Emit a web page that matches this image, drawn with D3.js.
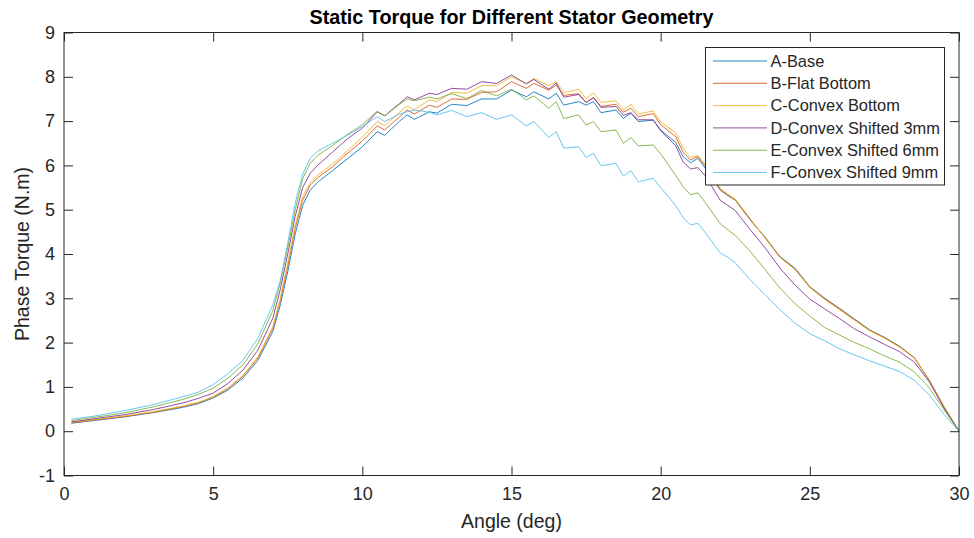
<!DOCTYPE html>
<html>
<head>
<meta charset="utf-8">
<script src="https://cdn.jsdelivr.net/npm/d3@7"></script>
<style>
  body { margin: 0; background: #fff; }
  svg { font-family: "Liberation Sans", Arial, sans-serif; }
</style>
</head>
<body>
<svg width="974" height="538"></svg>
<script>
/*
Data (angle in deg, torque in N.m)
*/

const angle = [0.25, 1, 2, 3, 4, 4.5, 5, 5.5, 6, 6.5,
	7, 7.25, 7.5, 7.75, 8, 8.25, 8.5, 9, 9.5, 10,
	10.5, 10.75, 11.25, 11.5, 11.75, 12.25, 12.5, 13, 13.5, 14,
	14.5, 15, 15.5, 15.75, 16.25, 16.5, 16.75, 17.25, 17.5, 17.75,
	18, 18.5, 18.75, 19, 19.25, 19.75, 20, 20.5, 20.75, 21,
	21.25, 21.5, 22, 22.25, 22.5, 23, 23.5, 24, 24.5, 25,
	25.5, 26, 26.5, 27, 27.5, 28, 28.5, 29, 29.5, 30];

const aBase = [0.18, 0.24, 0.32, 0.42, 0.54, 0.62, 0.75, 0.93, 1.2, 1.6,
	2.25, 2.85, 3.6, 4.45, 5.1, 5.44, 5.62, 5.88, 6.15, 6.42,
	6.76, 6.68, 7.0, 7.14, 7.04, 7.21, 7.18, 7.38, 7.35, 7.5,
	7.5, 7.7, 7.55, 7.66, 7.5, 7.63, 7.36, 7.44, 7.36, 7.44,
	7.19, 7.25, 7.06, 7.18, 6.99, 7.02, 6.8, 6.52, 6.2, 6.06,
	6.16, 5.93, 5.44, 5.32, 5.22, 4.77, 4.38, 3.94, 3.68, 3.26,
	3.0, 2.77, 2.53, 2.29, 2.12, 1.92, 1.66, 1.15, 0.55, 0];

const bFlat = [0.19, 0.25, 0.33, 0.43, 0.56, 0.64, 0.77, 0.96, 1.24, 1.65,
	2.32, 2.95, 3.72, 4.58, 5.22, 5.55, 5.72, 5.97, 6.27, 6.55,
	6.89, 6.8, 7.1, 7.25, 7.16, 7.36, 7.31, 7.5, 7.49, 7.65,
	7.66, 7.89, 7.74, 7.85, 7.7, 7.81, 7.58, 7.62, 7.42, 7.53,
	7.33, 7.38, 7.2, 7.29, 7.1, 7.17, 6.92, 6.65, 6.3, 6.12,
	6.2, 5.98, 5.45, 5.33, 5.22, 4.78, 4.37, 3.93, 3.66, 3.25,
	2.99, 2.76, 2.52, 2.28, 2.11, 1.91, 1.66, 1.15, 0.54, 0];

const cConvex = [0.2, 0.26, 0.34, 0.44, 0.57, 0.65, 0.78, 0.98, 1.26, 1.68,
	2.36, 3.0, 3.8, 4.65, 5.3, 5.6, 5.78, 6.03, 6.33, 6.64,
	6.99, 6.9, 7.2, 7.34, 7.26, 7.48, 7.44, 7.65, 7.63, 7.8,
	7.8, 8.0, 7.85, 7.96, 7.8, 7.89, 7.64, 7.72, 7.51, 7.64,
	7.42, 7.46, 7.25, 7.38, 7.16, 7.23, 6.98, 6.74, 6.38, 6.18,
	6.22, 6.02, 5.48, 5.35, 5.24, 4.8, 4.36, 3.92, 3.65, 3.24,
	2.97, 2.74, 2.5, 2.27, 2.1, 1.9, 1.65, 1.16, 0.55, 0];

const dShift3 = [0.21, 0.28, 0.37, 0.49, 0.64, 0.74, 0.86, 1.08, 1.38, 1.83,
	2.55, 3.2, 4.0, 4.85, 5.5, 5.82, 6.0, 6.3, 6.6, 6.84,
	7.21, 7.12, 7.4, 7.55, 7.48, 7.63, 7.6, 7.74, 7.72, 7.89,
	7.85, 8.04, 7.84, 7.94, 7.72, 7.86, 7.54, 7.6, 7.42, 7.53,
	7.31, 7.33, 7.13, 7.19, 7.03, 7.03, 6.78, 6.45, 6.08, 5.92,
	5.95, 5.76, 5.21, 5.1, 4.98, 4.55, 4.14, 3.68, 3.3, 2.98,
	2.76, 2.54, 2.31, 2.13, 1.96, 1.8, 1.56, 1.12, 0.52, 0];

const eShift6 = [0.24, 0.31, 0.41, 0.55, 0.72, 0.83, 0.97, 1.2, 1.5, 1.98,
	2.72, 3.35, 4.15, 5.0, 5.7, 6.05, 6.22, 6.45, 6.7, 6.92,
	7.22, 7.12, 7.38, 7.5, 7.46, 7.54, 7.5, 7.62, 7.51, 7.69,
	7.57, 7.72, 7.48, 7.57, 7.29, 7.44, 7.06, 7.14, 6.91, 6.99,
	6.76, 6.8, 6.5, 6.63, 6.44, 6.46, 6.26, 5.78, 5.52, 5.34,
	5.38, 5.16, 4.68, 4.55, 4.42, 4.06, 3.65, 3.23, 2.88, 2.6,
	2.34, 2.17, 2.0, 1.86, 1.7, 1.56, 1.34, 0.98, 0.48, 0];

const fShift9 = [0.27, 0.34, 0.46, 0.6, 0.78, 0.88, 1.05, 1.3, 1.6, 2.1,
	2.85, 3.4, 4.25, 5.15, 5.8, 6.16, 6.32, 6.5, 6.68, 6.88,
	7.1, 6.99, 7.16, 7.21, 7.25, 7.2, 7.14, 7.24, 7.1, 7.19,
	7.04, 7.14, 6.89, 6.99, 6.63, 6.76, 6.39, 6.42, 6.18, 6.27,
	5.99, 6.05, 5.76, 5.88, 5.63, 5.71, 5.5, 5.1, 4.82, 4.66,
	4.69, 4.48, 4.02, 3.93, 3.8, 3.42, 3.08, 2.74, 2.44, 2.2,
	2.04, 1.86, 1.72, 1.59, 1.47, 1.35, 1.15, 0.82, 0.38, 0];

const seriesNames = ['A-Base', 'B-Flat Bottom', 'C-Convex Bottom',
	'D-Convex Shifted 3mm', 'E-Convex Shifted 6mm', 'F-Convex Shifted 9mm'];
const seriesValues = [aBase, bFlat, cConvex, dShift3, eShift6, fShift9];
const seriesColors = ['#0072BD', '#D95319', '#EDB120', '#7E2F8E', '#77AC30', '#4DBEEE'];

const xTicks = [0, 5, 10, 15, 20, 25, 30];
const yTicks = [-1, 0, 1, 2, 3, 4, 5, 6, 7, 8, 9];

/*
Layout
*/

var svg = d3.select('svg');
const axisColor = '#262626';
const plotLeft = 64, plotRight = 959, plotTop = 32.5, plotBottom = 475.5;

var x = d3.scaleLinear().domain([0, 30]).range([plotLeft, plotRight]);
var y = d3.scaleLinear().domain([-1, 9]).range([plotBottom, plotTop]);

// plot box
svg.append('rect')
	.attr('x', plotLeft).attr('y', plotTop)
	.attr('width', plotRight - plotLeft).attr('height', plotBottom - plotTop)
	.attr('fill', '#fff');

// lines
var line = d3.line()
	.x(function(d, i){ return x(angle[i]); })
	.y(function(d){ return y(d); });

svg.append('g')
	.selectAll('path')
	.data(seriesValues)
	.enter().append('path')
		.attr('d', line)
		.attr('fill', 'none')
		.attr('stroke', function(d, i){ return seriesColors[i]; })
		.attr('stroke-width', 1)
		.attr('stroke-opacity', 0.85);

// axes, MATLAB style: inward ticks on all four sides
function styleAxis(g){
	g.select('.domain').remove();
	g.selectAll('.tick line').attr('stroke', axisColor);
	g.selectAll('.tick text')
		.attr('fill', axisColor)
		.style('font-size', '18px')
		.style('font-family', '"Liberation Sans", Arial, sans-serif');
}

// plain hyphen for negatives, like the reference
var tickFmt = function(d){ return String(d); };

svg.append('g')
	.attr('transform', 'translate(0,' + plotBottom + ')')
	.call(d3.axisBottom(x).tickValues(xTicks).tickSize(-9).tickPadding(12).tickFormat(tickFmt))
	.call(styleAxis);

svg.append('g')
	.attr('transform', 'translate(0,' + plotTop + ')')
	.call(d3.axisTop(x).tickValues(xTicks).tickSize(-9).tickFormat(''))
	.call(styleAxis);

svg.append('g')
	.attr('transform', 'translate(' + plotLeft + ',0)')
	.call(d3.axisLeft(y).tickValues(yTicks).tickSize(-9).tickPadding(9).tickFormat(tickFmt))
	.call(styleAxis);

svg.append('g')
	.attr('transform', 'translate(' + plotRight + ',0)')
	.call(d3.axisRight(y).tickValues(yTicks).tickSize(-9).tickFormat(''))
	.call(styleAxis);

svg.append('rect')
	.attr('x', plotLeft).attr('y', plotTop)
	.attr('width', plotRight - plotLeft).attr('height', plotBottom - plotTop)
	.attr('fill', 'none')
	.attr('stroke', axisColor)
	.attr('stroke-width', 1);

// titles
svg.append('text')
	.attr('x', (plotLeft + plotRight) / 2).attr('y', 24)
	.attr('text-anchor', 'middle')
	.style('font-size', '19.8px').style('font-weight', 'bold')
	.attr('fill', '#000')
	.text('Static Torque for Different Stator Geometry');

svg.append('text')
	.attr('x', (plotLeft + plotRight) / 2).attr('y', 528)
	.attr('text-anchor', 'middle')
	.style('font-size', '19.5px')
	.attr('fill', axisColor)
	.text('Angle (deg)');

svg.append('text')
	.attr('transform', 'translate(29,' + ((plotTop + plotBottom) / 2) + ') rotate(-90)')
	.attr('text-anchor', 'middle')
	.style('font-size', '19.5px')
	.attr('fill', axisColor)
	.text('Phase Torque (N.m)');

// legend
var legend = svg.append('g');
legend.append('rect')
	.attr('x', 705.5).attr('y', 47.5)
	.attr('width', 239).attr('height', 137.5)
	.attr('fill', '#fff')
	.attr('stroke', axisColor)
	.attr('stroke-width', 1);

var item = legend.selectAll('g.item')
	.data(seriesNames)
	.enter().append('g')
		.attr('class', 'item')
		.attr('transform', function(d, i){ return 'translate(0,' + (61 + i * 22.3) + ')'; });

item.append('line')
	.attr('x1', 713).attr('x2', 767)
	.attr('y1', 0).attr('y2', 0)
	.attr('stroke', function(d, i){ return seriesColors[i]; })
	.attr('stroke-width', 1)
	.attr('stroke-opacity', 0.85);

item.append('text')
	.attr('x', 770.5).attr('y', 0)
	.attr('dy', '0.35em')
	.style('font-size', '16.4px')
	.attr('fill', axisColor)
	.text(function(d){ return d; });
</script>
</body>
</html>
